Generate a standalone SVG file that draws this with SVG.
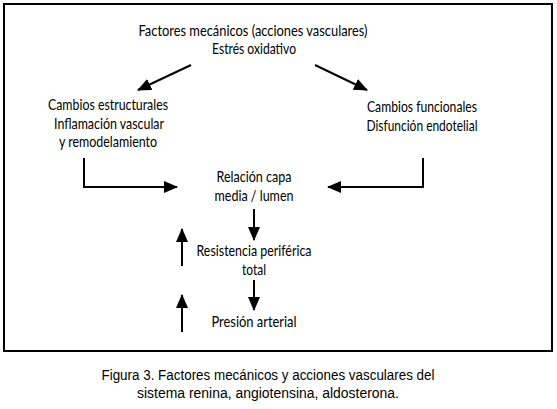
<svg xmlns="http://www.w3.org/2000/svg" width="557" height="409" viewBox="0 0 557 409">
<defs>
<marker id="ahs" markerWidth="14" markerHeight="12" refX="13" refY="6" orient="auto" markerUnits="userSpaceOnUse" viewBox="0 0 14 12">
<path d="M0,0 L14,6 L0,12 Z" fill="#000"/>
</marker>
</defs>
<style>
.t{font-family:Lato,"Open Sans",sans-serif;font-size:15px;fill:#000;text-anchor:middle}
.c{font-family:"Liberation Sans",Arial,sans-serif;font-size:14px;fill:#000;text-anchor:middle}
.l{stroke:#000;stroke-width:2;fill:none}
</style>
<rect x="0" y="0" width="557" height="409" fill="#fff"/>
<rect x="4" y="4" width="548" height="347" fill="none" stroke="#000" stroke-width="2"/>
<g id="n-factores"><text class="t" x="253" y="36" textLength="229" lengthAdjust="spacingAndGlyphs">Factores mecánicos (acciones vasculares)</text><text class="t" x="254" y="54" textLength="84" lengthAdjust="spacingAndGlyphs">Estrés oxidativo</text></g>
<g id="n-estructurales"><text class="t" x="108" y="110" textLength="120" lengthAdjust="spacingAndGlyphs">Cambios estructurales</text><text class="t" x="109" y="129" textLength="110" lengthAdjust="spacingAndGlyphs">Inflamación vascular</text><text class="t" x="108" y="147" textLength="98" lengthAdjust="spacingAndGlyphs">y remodelamiento</text></g>
<g id="n-funcionales"><text class="t" x="422" y="112" textLength="110" lengthAdjust="spacingAndGlyphs">Cambios funcionales</text><text class="t" x="422" y="131" textLength="111" lengthAdjust="spacingAndGlyphs">Disfunción endotelial</text></g>
<g id="n-relacion"><text class="t" x="254" y="182" textLength="75" lengthAdjust="spacingAndGlyphs">Relación capa</text><text class="t" x="254" y="201" textLength="79" lengthAdjust="spacingAndGlyphs">media / lumen</text></g>
<g id="n-resistencia"><text class="t" x="254" y="256" textLength="115" lengthAdjust="spacingAndGlyphs">Resistencia periférica</text><text class="t" x="254" y="275" textLength="24" lengthAdjust="spacingAndGlyphs">total</text></g>
<g id="n-presion"><text class="t" x="254" y="327" textLength="85" lengthAdjust="spacingAndGlyphs">Presión arterial</text></g>
<g id="connectors">
<line class="l" x1="191" y1="65" x2="138" y2="90" stroke-width="1.3" marker-end="url(#ahs)"/>
<line class="l" x1="315" y1="65" x2="367" y2="90" stroke-width="1.3" marker-end="url(#ahs)"/>
<polyline class="l" points="84,158 84,187 177,187" marker-end="url(#ahs)"/>
<polyline class="l" points="423,158 423,187 328,187" marker-end="url(#ahs)"/>
<line class="l" x1="254" y1="209" x2="254" y2="240" marker-end="url(#ahs)"/>
<line class="l" x1="254" y1="280" x2="254" y2="310" marker-end="url(#ahs)"/>
<line class="l" x1="182" y1="266" x2="182" y2="229" marker-end="url(#ahs)"/>
<line class="l" x1="182" y1="332" x2="182" y2="295" marker-end="url(#ahs)"/>
</g>
<text class="c" x="268" y="380" textLength="333" lengthAdjust="spacingAndGlyphs">Figura 3. Factores mecánicos y acciones vasculares del</text>
<text class="c" x="268" y="398" textLength="262" lengthAdjust="spacingAndGlyphs">sistema renina, angiotensina, aldosterona.</text>
</svg>
